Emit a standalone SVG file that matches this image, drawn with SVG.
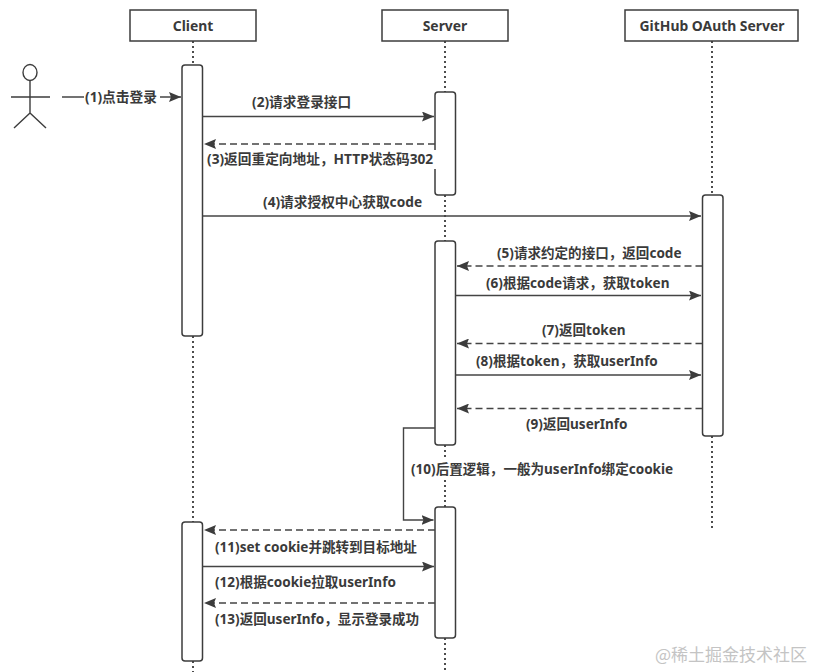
<svg xmlns="http://www.w3.org/2000/svg" width="814" height="672" viewBox="0 0 814 672">
<style>
text{font-family:"Noto Sans","Noto Sans CJK SC",sans-serif;font-weight:700;font-size:13.55px;fill:#3a3a3a}
text.w{font-size:13.7px}
text.h{font-size:13.9px;text-anchor:middle}
.box{fill:#fff;stroke:#3c3c3c;stroke-width:1.5}
.act{fill:#fff;stroke:#3c3c3c;stroke-width:1.5}
.life{fill:none;stroke:#2e2e2e;stroke-width:1.7;stroke-dasharray:2 3}
.c{fill:none;stroke:#444;stroke-width:1.4}
.d{stroke-dasharray:7 4}
.a{fill:none;stroke:#3c3c3c;stroke-width:1.4}
text.wm{font-family:"Noto Sans CJK SC",sans-serif;font-weight:400;font-size:17px;fill:#c4c4c4}
</style>
<defs>
<marker id="ah" markerUnits="userSpaceOnUse" markerWidth="13" markerHeight="10" refX="12" refY="5" orient="auto"><path d="M0 0L12 5L0 10L2 5Z" fill="#3c3c3c"/></marker>
</defs>
<rect width="814" height="672" fill="#fff"/>
<g id="lifelines">
<path class="life" d="M193 41V65M193 336V522M193 661V672"/>
<path class="life" d="M445 41V92M445 195V241M445 445V507M445 638V672"/>
<path class="life" d="M712 41V195M712 436V530"/>
</g>
<g id="actor-user" class="a">
<ellipse cx="30" cy="72.5" rx="7" ry="8"/>
<path d="M30 80.500V113M11 97H50M30 113L14 128M30 113L46 128"/>
</g>
<g id="node-client"><rect class="box" x="130" y="10" width="126" height="31"/><text class="h" x="193" y="30.500">Client</text></g>
<g id="node-server"><rect class="box" x="382" y="10" width="126" height="31"/><text class="h" x="445" y="30.500">Server</text></g>
<g id="node-github"><rect class="box" x="625" y="10" width="173" height="31"/><text class="h" x="712" y="30.500">GitHub OAuth Server</text></g>
<g id="activation-client-1"><rect class="act" x="182" y="65" width="20.500" height="271" rx="3"/></g>
<g id="activation-server-1"><rect class="act" x="435" y="92" width="20.500" height="103" rx="3"/></g>
<g id="activation-github"><rect class="act" x="702.500" y="195" width="20.500" height="241" rx="3"/></g>
<g id="activation-server-2"><rect class="act" x="435" y="241" width="20.500" height="204" rx="3"/></g>
<g id="activation-server-3"><rect class="act" x="435" y="507" width="20.500" height="131" rx="3"/></g>
<g id="activation-client-2"><rect class="act" x="182" y="522" width="20.500" height="139" rx="3"/></g>
<g id="connectors">
<path class="c" d="M62 97H181" marker-end="url(#ah)"/>
<path class="c" d="M202.500 116.500H434" marker-end="url(#ah)"/>
<path class="c d" d="M435 144H204" marker-end="url(#ah)"/>
<path class="c" d="M202.500 216H701" marker-end="url(#ah)"/>
<path class="c d" d="M702.500 266H457" marker-end="url(#ah)"/>
<path class="c" d="M455.500 295.500H701" marker-end="url(#ah)"/>
<path class="c d" d="M702.500 343.500H457" marker-end="url(#ah)"/>
<path class="c" d="M455.500 375H701" marker-end="url(#ah)"/>
<path class="c d" d="M702.500 408.500H457" marker-end="url(#ah)"/>
<path class="c" d="M435 428H403.500V520H433.500" marker-end="url(#ah)"/>
<path class="c d" d="M435 530H204" marker-end="url(#ah)"/>
<path class="c" d="M202.500 566.500H434" marker-end="url(#ah)"/>
<path class="c d" d="M435 603H204" marker-end="url(#ah)"/>
</g>
<g id="labels">
<rect x="84" y="88" width="76" height="18" fill="#fff"/>
<text class="w" x="85" y="102">(1)点击登录</text>
<text class="w" x="252" y="107">(2)请求登录接口</text>
<rect x="206" y="150" width="230" height="19" fill="#fff"/>
<text class="w" x="207" y="163.500">(3)返回重定向地址，HTTP状态码302</text>
<text class="w" x="263" y="206.500">(4)请求授权中心获取code</text>
<text x="497" y="257.500">(5)请求约定的接口，返回code</text>
<text x="486" y="287.500">(6)根据code请求，获取token</text>
<text x="542" y="335">(7)返回token</text>
<text x="476" y="366">(8)根据token，获取userInfo</text>
<text x="526" y="429">(9)返回userInfo</text>
<rect x="410" y="460" width="266" height="19" fill="#fff"/>
<text x="411" y="474">(10)后置逻辑，一般为userInfo绑定cookie</text>
<text x="215" y="551.500">(11)set cookie并跳转到目标地址</text>
<text x="215" y="587">(12)根据cookie拉取userInfo</text>
<text x="215" y="624">(13)返回userInfo，显示登录成功</text>
<text class="wm" x="655" y="661">@稀土掘金技术社区</text>
</g>
</svg>
